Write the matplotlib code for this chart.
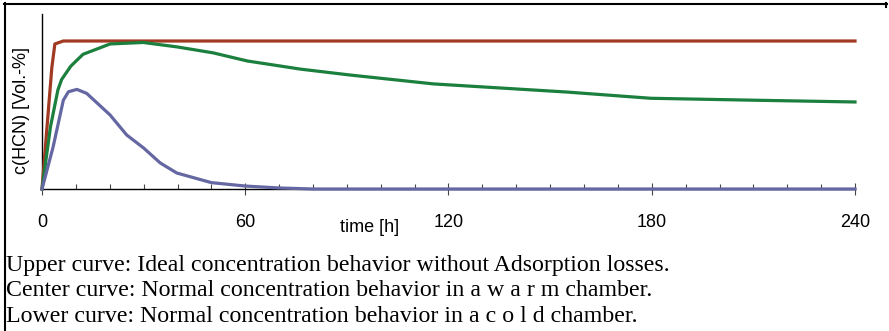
import numpy as np
import matplotlib.pyplot as plt
from matplotlib.lines import Line2D

# time [h] and concentration (arbitrary units, ideal plateau = 1)
t_upper = [0, 2.9, 3.8, 6.3, 240]
c_upper = [0, 0.82, 0.98, 1.0, 1.0]

t_center = [0, 2.5, 4.7, 5.8, 8.5, 12.1, 20.1, 29.9, 39.9, 50.5, 60.6, 76.3,
            91, 115.6, 155, 179.7, 210, 240]
c_center = [0, 0.42, 0.67, 0.74, 0.83, 0.91, 0.98, 0.99, 0.96, 0.92, 0.865,
            0.81, 0.77, 0.71, 0.655, 0.613, 0.60, 0.588]

t_lower = [0, 3.3, 6.3, 7.8, 10.3, 13.2, 20.1, 25, 30, 34.9, 39.8, 50, 60,
           70, 80, 240]
c_lower = [0, 0.286, 0.60, 0.657, 0.673, 0.646, 0.50, 0.365, 0.277, 0.176,
           0.108, 0.043, 0.02, 0.007, 0.0, 0.0]

x_ticks = [0, 60, 120, 180, 240]
captions = [
    "Upper curve: Ideal concentration behavior without Adsorption losses.",
    "Center curve: Normal concentration behavior in a w a r m chamber.",
    "Lower curve: Normal concentration behavior in a c o l d chamber.",
]

W, H = 889, 331
fig = plt.figure(figsize=(W / 100, H / 100), dpi=100)
ax = fig.add_axes([42 / W, 1 - 189 / H, (855 - 42) / W, 175 / H])

lw = 2.3
ax.plot(t_upper, c_upper, color="#a13a22", lw=lw, clip_on=False, zorder=3)
ax.plot(t_center, c_center, color="#1b7f3d", lw=lw, clip_on=False, zorder=3)
ax.plot(t_lower, c_lower, color="#6567a2", lw=lw, clip_on=False, zorder=4)

ax.set_xlim(0, 240)
ax.set_ylim(0, 175 / 148)
ax.set_xticks(x_ticks)
ax.set_xticks(np.arange(0, 241, 10), minor=True)
ax.set_yticks([])
for s in ["top", "right"]:
    ax.spines[s].set_visible(False)
for s in ["left", "bottom"]:
    ax.spines[s].set_linewidth(1.0)

font = "Liberation Sans"
ax.tick_params(axis="x", which="major", direction="inout", length=8,
               width=0.8, color="#444444", pad=14, labelsize=13)
ax.tick_params(axis="x", which="minor", direction="in", length=3.6,
               width=0.8, color="#444444")
for lab in ax.get_xticklabels():
    lab.set_fontfamily(font)

fig.text(370 / W, 1 - 228 / H, "time [h]", fontsize=13, family=font,
         ha="center", va="center")
fig.text(22 / W, 1 - 111 / H, "c(HCN) [Vol.-%]", fontsize=13, family=font,
         ha="center", va="center", rotation=90)

for i, line in enumerate(captions):
    fig.text(6 / W, 1 - (265 + 25.5 * i) / H, line, fontsize=17.2,
             family="Liberation Serif", ha="left", va="center")

# outer frame: left and top edges
fig.add_artist(Line2D([4.5 / W, 4.5 / W], [0, 1 - 3 / H], transform=fig.transFigure,
                      color="black", lw=1.5))
fig.add_artist(Line2D([4 / W, 887 / W], [1 - 3.5 / H, 1 - 3.5 / H],
                      transform=fig.transFigure, color="black", lw=1.5))
fig.add_artist(Line2D([886 / W, 886 / W], [1 - 3 / H, 1 - 7 / H],
                      transform=fig.transFigure, color="black", lw=1.5))

fig.savefig("out.png", dpi=100)
